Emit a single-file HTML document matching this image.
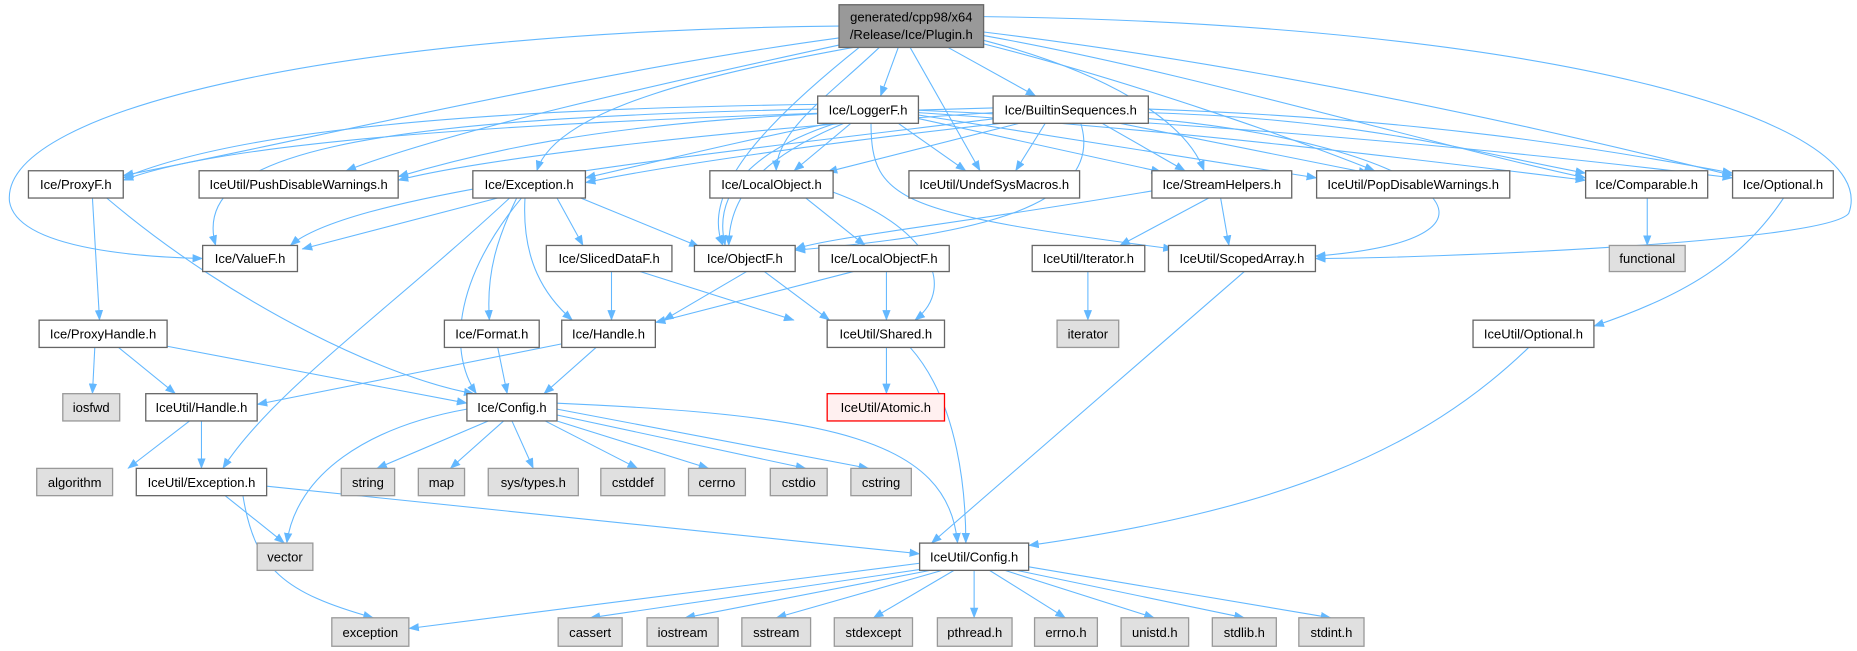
<!DOCTYPE html>
<html><head><meta charset="utf-8"><style>
html,body{margin:0;padding:0;background:#fff;}
svg{display:block;}
text{font-family:"Liberation Sans",Arial,sans-serif;font-size:11px;fill:#000;text-anchor:middle;}
.e{fill:none;stroke:#63b8ff;stroke-width:0.9;}
.n rect{fill:#fff;stroke:#666;stroke-width:1.1;}
.g rect{fill:#e0e0e0;stroke:#999;stroke-width:1.1;}
</style></head><body>
<svg width="1857" height="651" viewBox="0 0 1567 549" preserveAspectRatio="none" xmlns="http://www.w3.org/2000/svg">
<defs><marker id="a" markerWidth="9" markerHeight="7" refX="8.5" refY="3.5" orient="auto" markerUnits="userSpaceOnUse"><path d="M0,0 L9,3.5 L0,7 z" fill="#63b8ff"/></marker></defs>
<g class="e" marker-end="url(#a)">
<!-- Plugin -->
<path d="M708,22 C300,26 0,90 8,170 C15,212 130,217 171,218"/>
<path d="M708,32 C500,60 250,120 104,148"/>
<path d="M708,38 C560,70 380,110 292,144"/>
<path d="M720,40 C610,60 470,90 453,144"/>
<path d="M758,40 L743,81"/>
<path d="M725,40 C650,100 590,160 610,207"/>
<path d="M742,40 C700,80 655,110 655,144"/>
<path d="M768,40 L827,144"/>
<path d="M800,40 L874,81"/>
<path d="M830,34 C930,60 1000,100 1016,144"/>
<path d="M830,37 C960,70 1100,120 1160,144"/>
<path d="M830,30 C1000,60 1200,120 1338,150"/>
<path d="M830,27 C1100,60 1350,120 1462,148"/>
<path d="M830,14 C1300,20 1590,100 1560,180 C1540,205 1200,218 1110,218"/>
<!-- LoggerF -->
<path d="M690,88 C400,92 200,110 104,150"/>
<path d="M690,96 C500,105 400,130 336,149"/>
<path d="M700,104 C620,120 560,135 494,150"/>
<path d="M690,92 C300,100 160,130 182,207"/>
<path d="M705,104 C640,125 600,160 612,207"/>
<path d="M712,104 C650,130 615,160 615,207"/>
<path d="M718,104 L670,144"/>
<path d="M758,104 L815,144"/>
<path d="M775,100 L980,145"/>
<path d="M775,97 L1111,150"/>
<path d="M775,95 C1000,110 1200,135 1338,152"/>
<path d="M775,93 C1050,105 1300,130 1462,150"/>
<path d="M735,104 C735,170 760,180 990,210"/>
<!-- Builtin -->
<path d="M838,91 C500,100 200,115 104,152"/>
<path d="M838,95 C600,110 400,135 336,152"/>
<path d="M845,104 C700,120 560,140 494,154"/>
<path d="M840,100 C600,130 300,160 245,207"/>
<path d="M860,104 L698,145"/>
<path d="M912,104 C935,180 800,200 671,211"/>
<path d="M882,104 L857,144"/>
<path d="M930,104 L1000,144"/>
<path d="M945,104 L1155,146"/>
<path d="M969,95 C1150,100 1250,130 1338,146"/>
<path d="M969,92 C1200,100 1350,125 1462,146"/>
<path d="M969,100 C1200,120 1310,200 1110,216"/>
<!-- row3 -->
<path d="M78,167 L84,270"/>
<path d="M90,167 C200,260 330,320 400,332"/>
<path d="M420,167 L255,210"/>
<path d="M470,167 L492,207"/>
<path d="M490,167 L590,208"/>
<path d="M436,167 C420,200 410,230 413,270"/>
<path d="M443,167 C440,220 460,250 483,270"/>
<path d="M440,167 C380,240 380,300 402,332"/>
<path d="M430,167 C330,260 230,330 188,395"/>
<path d="M680,167 L730,207"/>
<path d="M703,162 C780,190 810,240 772,270"/>
<path d="M972,161 C800,190 700,200 671,210"/>
<path d="M1020,167 L945,207"/>
<path d="M1030,167 L1037,207"/>
<path d="M1390,167 L1390,207"/>
<path d="M1505,167 C1470,220 1420,250 1345,275"/>
<!-- row4 -->
<path d="M516,229 L516,270"/>
<path d="M540,229 L670,270"/>
<path d="M630,229 L560,270"/>
<path d="M645,229 L700,270"/>
<path d="M720,229 L553,272"/>
<path d="M748,229 L748,270"/>
<path d="M918,229 L918,270"/>
<path d="M1050,229 L786,458"/>
<!-- row5 -->
<path d="M80,293 L78,332"/>
<path d="M100,293 L148,332"/>
<path d="M141,292 L394,340"/>
<path d="M420,293 L428,332"/>
<path d="M474,290 L217,341"/>
<path d="M503,293 L459,332"/>
<path d="M748,293 L748,332"/>
<path d="M768,293 C810,340 815,420 815,458"/>
<path d="M1290,293 C1200,380 1080,430 868,460"/>
<!-- row6 -->
<path d="M160,355 L108,395"/>
<path d="M170,355 L170,395"/>
<path d="M394,345 C310,360 250,400 242,458"/>
<path d="M412,355 L318,395"/>
<path d="M425,355 L380,395"/>
<path d="M432,355 L450,395"/>
<path d="M460,355 L538,395"/>
<path d="M470,355 L598,395"/>
<path d="M470,350 L680,395"/>
<path d="M470,345 L733,395"/>
<path d="M470,340 C700,350 800,370 808,458"/>
<!-- row7 -->
<path d="M190,418 L240,458"/>
<path d="M205,418 C215,480 240,500 315,521"/>
<path d="M225,410 L776,467"/>
<!-- IceUtil/Config -->
<path d="M776,475 L345,530"/>
<path d="M778,480 L498,521"/>
<path d="M785,481 L578,521"/>
<path d="M795,481 L655,521"/>
<path d="M805,481 L737,521"/>
<path d="M822,481 L822,521"/>
<path d="M835,481 L899,521"/>
<path d="M848,481 L974,521"/>
<path d="M858,481 L1050,521"/>
<path d="M868,478 L1123,521"/>
</g>
<!-- nodes -->
<g class="n">
<rect x="708" y="4" width="122" height="36" style="fill:#999;stroke:#666"/>
<text x="769" y="18">generated/cpp98/x64</text><text x="769" y="33">/Release/Ice/Plugin.h</text>
<rect x="690" y="81" width="85" height="23"/><text x="732.5" y="96.5">Ice/LoggerF.h</text>
<rect x="838" y="81" width="131" height="23"/><text x="903.5" y="96.5">Ice/BuiltinSequences.h</text>
<rect x="24" y="144" width="80" height="23"/><text x="64" y="159.5">Ice/ProxyF.h</text>
<rect x="168" y="144" width="168" height="23"/><text x="252" y="159.5">IceUtil/PushDisableWarnings.h</text>
<rect x="399" y="144" width="95" height="23"/><text x="446.5" y="159.5">Ice/Exception.h</text>
<rect x="599" y="144" width="104" height="23"/><text x="651" y="159.5">Ice/LocalObject.h</text>
<rect x="767" y="144" width="144" height="23"/><text x="839" y="159.5">IceUtil/UndefSysMacros.h</text>
<rect x="972" y="144" width="118" height="23"/><text x="1031" y="159.5">Ice/StreamHelpers.h</text>
<rect x="1111" y="144" width="163" height="23"/><text x="1192.5" y="159.5">IceUtil/PopDisableWarnings.h</text>
<rect x="1338" y="144" width="103" height="23"/><text x="1389.5" y="159.5">Ice/Comparable.h</text>
<rect x="1462" y="144" width="85" height="23"/><text x="1504.5" y="159.5">Ice/Optional.h</text>
<rect x="171" y="207" width="80" height="22"/><text x="211" y="222">Ice/ValueF.h</text>
<rect x="461" y="207" width="106" height="22"/><text x="514" y="222">Ice/SlicedDataF.h</text>
<rect x="586" y="207" width="85" height="22"/><text x="628.5" y="222">Ice/ObjectF.h</text>
<rect x="691" y="207" width="110" height="22"/><text x="746" y="222">Ice/LocalObjectF.h</text>
<rect x="871" y="207" width="95" height="22"/><text x="918.5" y="222">IceUtil/Iterator.h</text>
<rect x="986" y="207" width="124" height="22"/><text x="1048" y="222">IceUtil/ScopedArray.h</text>
<rect x="33" y="270" width="108" height="23"/><text x="87" y="285.5">Ice/ProxyHandle.h</text>
<rect x="375" y="270" width="80" height="23"/><text x="415" y="285.5">Ice/Format.h</text>
<rect x="474" y="270" width="79" height="23"/><text x="513.5" y="285.5">Ice/Handle.h</text>
<rect x="698" y="270" width="99" height="23"/><text x="747.5" y="285.5">IceUtil/Shared.h</text>
<rect x="1243" y="270" width="102" height="23"/><text x="1294" y="285.5">IceUtil/Optional.h</text>
<rect x="123" y="332" width="94" height="23"/><text x="170" y="347.5">IceUtil/Handle.h</text>
<rect x="394" y="332" width="76" height="23"/><text x="432" y="347.5">Ice/Config.h</text>
<rect x="698" y="332" width="99" height="23" style="fill:#fff0f0;stroke:#f00"/><text x="747.5" y="347.5">IceUtil/Atomic.h</text>
<rect x="115" y="395" width="110" height="23"/><text x="170" y="410.5">IceUtil/Exception.h</text>
<rect x="776" y="458" width="92" height="23"/><text x="822" y="473.5">IceUtil/Config.h</text>
</g>
<g class="g">
<rect x="1358" y="207" width="64" height="22"/><text x="1390" y="222">functional</text>
<rect x="892" y="270" width="52" height="23"/><text x="918" y="285.5">iterator</text>
<rect x="53" y="332" width="48" height="23"/><text x="77" y="347.5">iosfwd</text>
<rect x="31" y="395" width="64" height="23"/><text x="63" y="410.5">algorithm</text>
<rect x="288" y="395" width="45" height="23"/><text x="310.5" y="410.5">string</text>
<rect x="353" y="395" width="39" height="23"/><text x="372.5" y="410.5">map</text>
<rect x="412" y="395" width="76" height="23"/><text x="450" y="410.5">sys/types.h</text>
<rect x="507" y="395" width="54" height="23"/><text x="534" y="410.5">cstddef</text>
<rect x="581" y="395" width="48" height="23"/><text x="605" y="410.5">cerrno</text>
<rect x="650" y="395" width="48" height="23"/><text x="674" y="410.5">cstdio</text>
<rect x="718" y="395" width="51" height="23"/><text x="743.5" y="410.5">cstring</text>
<rect x="217" y="458" width="47" height="23"/><text x="240.5" y="473.5">vector</text>
<rect x="280" y="521" width="65" height="24"/><text x="312.5" y="537">exception</text>
<rect x="471" y="521" width="54" height="24"/><text x="498" y="537">cassert</text>
<rect x="546" y="521" width="60" height="24"/><text x="576" y="537">iostream</text>
<rect x="626" y="521" width="58" height="24"/><text x="655" y="537">sstream</text>
<rect x="704" y="521" width="66" height="24"/><text x="737" y="537">stdexcept</text>
<rect x="791" y="521" width="63" height="24"/><text x="822.5" y="537">pthread.h</text>
<rect x="873" y="521" width="53" height="24"/><text x="899.5" y="537">errno.h</text>
<rect x="946" y="521" width="57" height="24"/><text x="974.5" y="537">unistd.h</text>
<rect x="1023" y="521" width="54" height="24"/><text x="1050" y="537">stdlib.h</text>
<rect x="1096" y="521" width="55" height="24"/><text x="1123.5" y="537">stdint.h</text>
</g>
</svg>
</body></html>
